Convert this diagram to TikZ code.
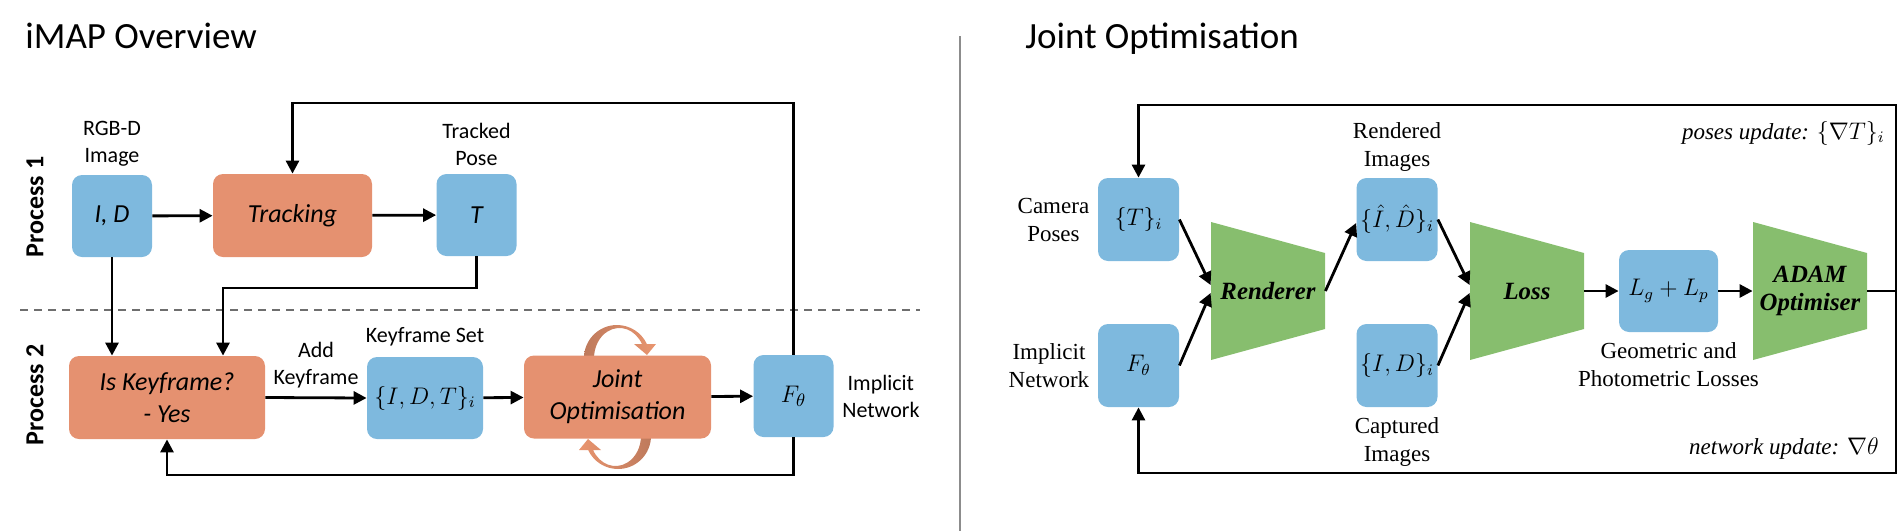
\documentclass[tikz,border=0pt]{standalone}
\usepackage{fontspec}
\setmainfont{Liberation Serif}
\newfontfamily\calib{Carlito}
\newfontfamily\serif{Liberation Serif}
\usetikzlibrary{arrows.meta,positioning}

\definecolor{boxblue}{HTML}{7EB9DE}
\definecolor{boxorange}{HTML}{E59170}
\definecolor{trapgreen}{HTML}{87BE6E}
\definecolor{spinlight}{HTML}{E9956F}
\definecolor{spindark}{HTML}{BE7A5C}
\definecolor{sepgray}{HTML}{6E6E6E}

\tikzset{
  box/.style={rounded corners=5pt, inner sep=0pt, align=center, minimum width=40pt, minimum height=41pt},
  inbox/.style={box, fill=boxblue, font=\calib\itshape\fontsize{13}{16}\selectfont},
  stage/.style={box, fill=boxorange, minimum height=41.5pt, font=\calib\itshape\fontsize{13}{16}\selectfont},
  rbox/.style={box, fill=boxblue, minimum width=40.5pt, minimum height=41.5pt, font=\serif\fontsize{11.5}{14}\selectfont},
  trap/.style={minimum width=57pt, minimum height=69pt, inner sep=0pt, align=center, fill=white,
    font=\serif\bfseries\itshape\fontsize{12.4}{14}\selectfont,
    path picture={\fill[trapgreen] (path picture bounding box.north west)
      -- ([yshift=-15.5pt]path picture bounding box.north east)
      -- ([yshift=15.5pt]path picture bounding box.south east)
      -- (path picture bounding box.south west) -- cycle;}},
  lbl/.style={inner sep=1pt, align=center, font=\calib\fontsize{11}{13.5}\selectfont},
  rlbl/.style={inner sep=1pt, align=center, font=\serif\fontsize{11.5}{14}\selectfont},
  note/.style={inner sep=0pt, anchor=base east, font=\serif\itshape\fontsize{11.5}{14}\selectfont},
  title/.style={inner sep=0pt, anchor=base west, font=\calib\fontsize{18.5}{22}\selectfont},
  side/.style={inner sep=0pt, rotate=90, font=\calib\bfseries\fontsize{13}{16}\selectfont},
  link/.style={line width=1.4pt, -{Triangle[length=6.5pt,width=6.5pt]}},
  wire/.style={line width=1.4pt},
}

\begin{document}
\begin{tikzpicture}[x=0.5pt,y=-0.5pt]
\useasboundingbox (0,0) rectangle (1897,531);

% ---- iMAP overview ----
\node[title] (ttl1) at (25,48) {iMAP Overview};
\node[side] (p1) at (35,207) {Process 1};
\node[side] (p2) at (35,395) {Process 2};
\draw[sepgray, line width=1pt, dash pattern=on 4pt off 3pt] (20,310) -- (920,310);

% spinning arrows round the joint optimisation
\shade[left color=spindark, middle color=spinlight, right color=spinlight]
  (584,358) arc[start angle=180,end angle=334.9,radius=33]
  -- (656,344) -- (647,355) -- (634,344) -- (641.9,344)
  arc[start angle=332.2,end angle=180,x radius=25.4,y radius=30] -- cycle;
\shade[left color=spinlight, middle color=spinlight, right color=spindark]
  (651,436) arc[start angle=0,end angle=154.9,radius=33]
  -- (579,450) -- (588,439) -- (601,450) -- (593.1,450)
  arc[start angle=152.2,end angle=0,x radius=25.4,y radius=30] -- cycle;

\node[inbox] (id) at (112,216) {I, D};
\node[stage, minimum width=79.5pt] (track) at (292.5,215.5) {Tracking};
\node[inbox] (pose) at (476.5,215) {T};
\node[stage, minimum width=98pt] (key) at (167,397.5) {Is Keyframe?\\- Yes};
\node[inbox, minimum width=58pt, font=\fontsize{11.5}{14}\selectfont] (kfset) at (425,398) {$\{I,D,T\}_i$};
\node[stage, minimum width=93.5pt] (joint) at (617.5,397) {Joint\\Optimisation};
\node[inbox, font=\fontsize{12.5}{14}\selectfont] (fnet) at (793.5,396) {$F_\theta$};

\node[lbl, above=3pt of id] (lid) {RGB-D\\Image};
\node[lbl, above=3pt of pose] (lpose) {Tracked\\Pose};
\node[lbl, above=4pt of kfset] (lkf) {Keyframe Set};
\node[lbl, right=3pt of fnet] (lnet) {Implicit\\Network};

\coordinate (topy) at (0,103);
\coordinate (boty) at (0,475);
\coordinate (mid) at (223,288);

\draw[link] (id) -- (track);
\draw[link] (track) -- (pose);
\draw[link] (id.south) -- (id.south |- key.north);
\draw[link] (pose.south) |- (mid) -- (mid |- key.north);
\draw[link] (key.east) -- node[lbl, above=3pt] (ladd) {Add\\Keyframe} (kfset.west);
\draw[link] (kfset) -- (joint);
\draw[link] (joint) -- (fnet);
\draw[link] (fnet.north) |- (track.north |- topy) -- (track.north);
\draw[link] (fnet.south) |- (key.south |- boty) -- (key.south);

% ---- divider ----
\draw[gray!90, line width=0.8pt] (960,36) -- (960,531);

% ---- joint optimisation ----
\node[title] (ttl2) at (1025,48) {Joint Optimisation};

\node[rbox] (cam) at (1138.5,219.5) {$\{T\}_i$};
\node[rbox] (fnet2) at (1138.5,365.5) {$F_\theta$};
\node[trap] (rend) at (1268,291) {Renderer};
\node[rbox] (rimg) at (1397,219.5) {$\{\hat{I},\hat{D}\}_i$};
\node[rbox] (cimg) at (1397,365.5) {$\{I,D\}_i$};
\node[trap] (loss) at (1527,291) {Loss};
\node[rbox, minimum width=49.5pt, minimum height=41pt] (lsum) at (1668.5,291) {$L_g+L_p$};
\node[trap] (adam) at (1810,291) {ADAM\\Optimiser};

\node[rlbl, left=3pt of cam] (lcam) {Camera\\Poses};
\node[rlbl, left=3pt of fnet2] (lnet2) {Implicit\\Network};
\node[rlbl, above=2pt of rimg] (lrend) {Rendered\\Images};
\node[rlbl, below=4pt of cimg] (lcapt) {Captured\\Images};
\node[rlbl, below=4pt of lsum] (lloss) {Geometric and\\Photometric Losses};
\node[note] (upd1) at (1885,139) {poses update: $\{\nabla T\}_i$};
\node[note] (upd2) at (1879,454) {network update: $\nabla\theta$};

\coordinate (ne) at (1896,105);
\coordinate (se) at (1896,473);

\draw[link] (cam.east) -- ([yshift=3pt]rend.west);
\draw[link] (fnet2.east) -- ([yshift=-1pt]rend.west);
\draw[link] (rend.east) -- ([yshift=-1.75pt]rimg.west);
\draw[link] (rimg.east) -- ([yshift=3pt]loss.west);
\draw[link] (cimg.east) -- ([yshift=-1pt]loss.west);
\draw[link] (loss) -- (lsum);
\draw[link] (lsum) -- (adam);
\draw[wire] (adam.east) -- (adam.east -| ne);
\draw[link] (adam.east -| ne) |- (cam.north |- ne) -- (cam.north);
\draw[link] (adam.east -| ne) |- (fnet2.south |- se) -- (fnet2.south);
\end{tikzpicture}
\end{document}
